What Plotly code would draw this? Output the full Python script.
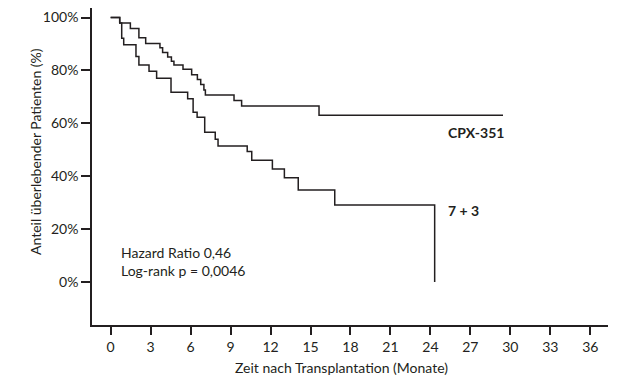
import plotly.graph_objects as go

# CPX-351 arm (months, survival %)
cpx_t = [0, 0.68, 1.48, 2.12, 2.63, 3.70, 3.90, 4.28, 4.56, 4.75, 5.43, 6.08,
         6.51, 6.76, 7.00, 7.11, 9.26, 9.83, 15.64, 29.45]
cpx_s = [100, 97.9, 95.8, 92.3, 90.2, 88.6, 86.8, 85.1, 83.5, 82.0, 80.4, 78.4,
         76.6, 74.7, 72.6, 70.7, 68.6, 66.5, 63.0, 63.0]

# 7 + 3 arm
std_t = [0, 0.68, 0.83, 0.98, 1.90, 2.12, 2.88, 3.45, 4.53, 5.78, 6.19, 6.49,
         7.06, 7.85, 8.06, 10.25, 10.59, 12.14, 13.04, 14.08, 16.82, 24.32]
std_s = [100, 97.9, 92.2, 89.7, 85.3, 82.0, 79.7, 77.0, 71.7, 69.3, 64.2, 62.3,
         56.6, 54.0, 51.4, 49.3, 46.0, 42.7, 39.4, 34.8, 29.1, 0.0]

x_ticks = list(range(0, 37, 3))
y_ticks = [0, 20, 40, 60, 80, 100]
y_labels = ["0%", "20%", "40%", "60%", "80%", "100%"]

ink = "#231f20"
font = "Lato, 'Open Sans', sans-serif"

# page body has an 8px margin; figure is sized to fit the 640x385 window
W, H = 632, 377
ML, MR, MT, MB = 84, 32, 0, 60
pw, ph = W - ML - MR, H - MT - MB

fig = go.Figure()
fig.add_trace(go.Scatter(x=cpx_t, y=cpx_s, mode="lines", line_shape="hv",
                         line=dict(color=ink, width=1.5), name="CPX-351"))
fig.add_trace(go.Scatter(x=std_t, y=std_s, mode="lines", line_shape="hv",
                         line=dict(color=ink, width=1.5), name="7 + 3"))

fig.update_layout(
    width=W, height=H,
    margin=dict(l=ML, r=MR, t=MT, b=MB),
    paper_bgcolor="white", plot_bgcolor="white",
    showlegend=False,
    font=dict(family=font, size=14, color=ink),
    xaxis=dict(range=[-1.40, 37.33], tickvals=x_ticks, showgrid=False, zeroline=False,
               showline=True, linecolor=ink, linewidth=1.5,
               ticks="outside", ticklen=8, tickwidth=1.5, tickcolor=ink,
               tickfont=dict(family=font, size=14, color=ink)),
    yaxis=dict(range=[-16.26, 103.59], tickvals=y_ticks, ticktext=y_labels,
               showgrid=False, zeroline=False,
               showline=True, linecolor=ink, linewidth=1.5,
               ticks="outside", ticklen=9, tickwidth=1.5, tickcolor=ink,
               tickfont=dict(family=font, size=14, color=ink)),
)

def P(px, py):
    # page pixel -> paper coords
    return (px - 8 - ML) / pw, 1 - (py - 8 - MT) / ph

for px, py, txt, anc, ang in [
    (446, 132, "<b>CPX-351</b>", "left", 0),
    (446, 210, "<b>7 + 3</b>", "left", 0),
    (119, 261, "Hazard Ratio 0,46<br>Log-rank p = 0,0046", "left", 0),
    (341, 367, "Zeit nach Transplantation (Monate)", "center", 0),
    (35, 152, "Anteil überlebender Patienten (%)", "center", -90),
]:
    x, y = P(px, py)
    fig.add_annotation(x=x, y=y, xref="paper", yref="paper", text=txt,
                       showarrow=False, xanchor=anc, yanchor="middle",
                       align="left", textangle=ang)

fig.write_html("out.html")
